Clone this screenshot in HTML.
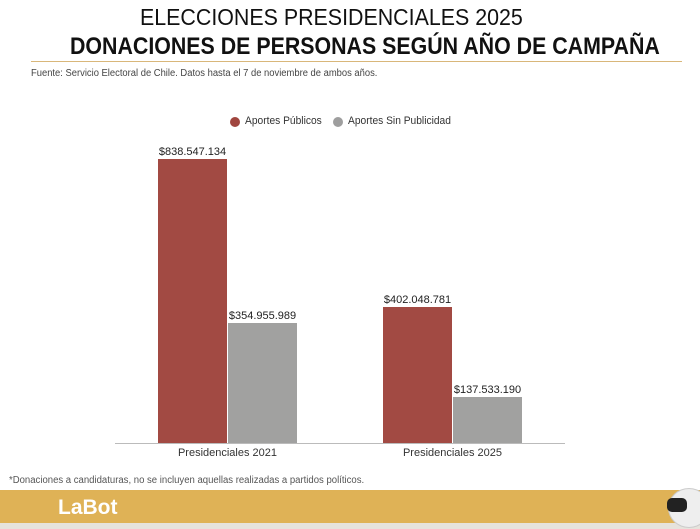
<!DOCTYPE html>
<html><head><meta charset="utf-8"><style>
body{margin:0;width:700px;height:529px;overflow:hidden;background:#fff;font-family:"Liberation Sans",sans-serif;position:relative}
.a{position:absolute;white-space:nowrap}
.s{transform-origin:left top}
</style></head><body>
<div class="a s" style="left:140px;top:4px;font-size:23px;color:#111;transform:scaleX(0.93)">ELECCIONES PRESIDENCIALES 2025</div>
<div class="a s" style="left:70px;top:33px;font-size:24px;font-weight:bold;color:#111;transform:scaleX(0.89)">DONACIONES DE PERSONAS SEGÚN AÑO DE CAMPAÑA</div>
<div class="a" style="left:31px;top:61px;width:651px;height:1px;background:#d9b77a"></div>
<div class="a s" style="left:31px;top:68px;font-size:10px;color:#444;transform:scaleX(0.94)">Fuente: Servicio Electoral de Chile. Datos hasta el 7 de noviembre de ambos años.</div>
<div class="a" style="left:230px;top:117px;width:10px;height:10px;border-radius:50%;background:#a0463f"></div>
<div class="a s" style="left:245px;top:115px;font-size:11px;color:#333;transform:scaleX(0.93)">Aportes Públicos</div>
<div class="a" style="left:333px;top:117px;width:10px;height:10px;border-radius:50%;background:#9e9e9e"></div>
<div class="a s" style="left:348px;top:115px;font-size:11px;color:#333;transform:scaleX(0.93)">Aportes Sin Publicidad</div>
<div class="a" style="left:158px;top:159px;width:69px;height:284px;background:#a24a43"></div>
<div class="a" style="left:228px;top:323px;width:69px;height:120px;background:#a1a1a0"></div>
<div class="a" style="left:383px;top:307px;width:69px;height:136px;background:#a24a43"></div>
<div class="a" style="left:453px;top:397px;width:69px;height:46px;background:#a1a1a0"></div>
<div class="a" style="left:115px;top:443px;width:450px;height:1px;background:#bbb"></div>
<div class="a" style="left:158px;top:146px;width:69px;text-align:center;font-size:11px;color:#222">$838.547.134</div>
<div class="a" style="left:228px;top:310px;width:69px;text-align:center;font-size:11px;color:#222">$354.955.989</div>
<div class="a" style="left:383px;top:294px;width:69px;text-align:center;font-size:11px;color:#222">$402.048.781</div>
<div class="a" style="left:453px;top:384px;width:69px;text-align:center;font-size:11px;color:#222">$137.533.190</div>
<div class="a" style="left:158px;top:447px;width:139px;text-align:center;font-size:11px;color:#333">Presidenciales 2021</div>
<div class="a" style="left:383px;top:447px;width:139px;text-align:center;font-size:11px;color:#333">Presidenciales 2025</div>
<div class="a s" style="left:9px;top:475px;font-size:10px;color:#555;transform:scaleX(0.955)">*Donaciones a candidaturas, no se incluyen aquellas realizadas a partidos políticos.</div>
<div class="a" style="left:0;top:490px;width:700px;height:34px;background:#dfb256"></div>
<div class="a" style="left:0;top:523px;width:700px;height:6px;background:#e6e3dc"></div>
<div class="a" style="left:58px;top:496px;font-size:21px;font-weight:bold;color:#fff">LaBot</div>
<div class="a" style="left:668px;top:488px;width:40px;height:38px;border-radius:50%;background:#eee;border:1px solid #ccc"></div>
<div class="a" style="left:667px;top:498px;width:20px;height:14px;border-radius:5px;background:#222"></div>
</body></html>
